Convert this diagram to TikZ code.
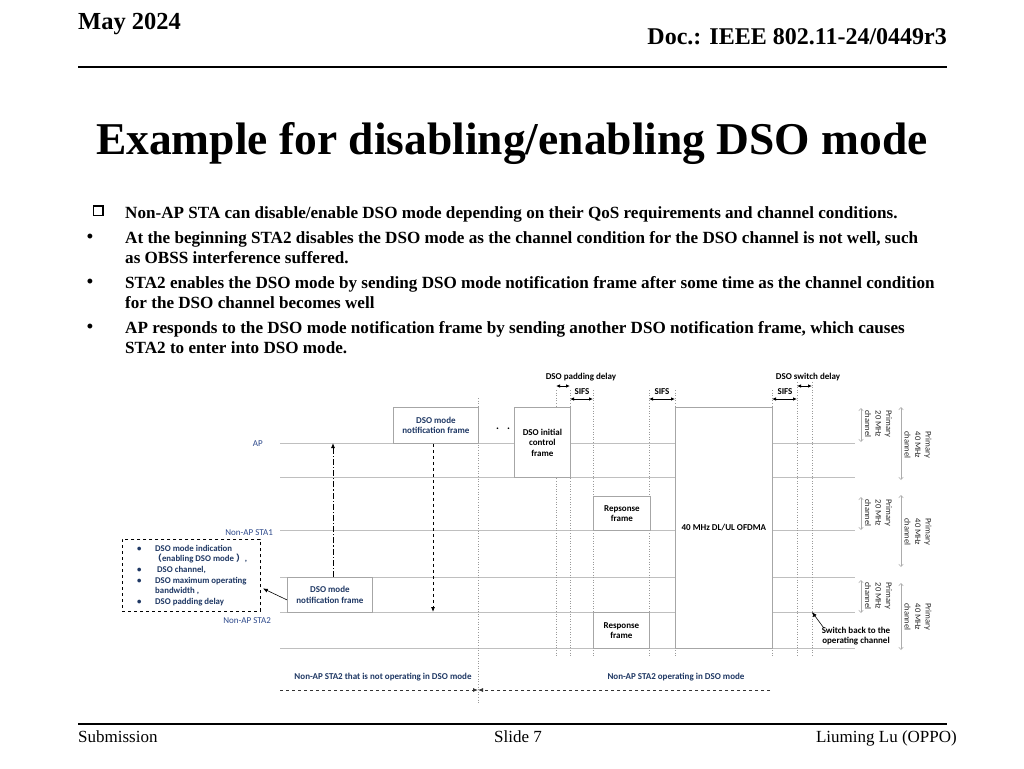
\documentclass[tikz,border=0pt]{standalone}
\usepackage{fontspec}
\setmainfont{Liberation Serif}
\newfontfamily\calfont{Carlito}
\newfontfamily\cjkfont{Noto Sans CJK SC}
\usetikzlibrary{arrows.meta}
\definecolor{navy}{HTML}{1F3864}
\definecolor{lblue}{HTML}{2E4A8C}
\definecolor{boxgray}{HTML}{A6A6A6}
\definecolor{linegray}{HTML}{BFBFBF}
\definecolor{dotgray}{HTML}{9A9A9A}
\begin{document}
\begin{tikzpicture}[x=1pt,y=-1pt,
  frame/.style={draw=boxgray, fill=white, line width=0.8pt, align=center,
    font=\calfont\bfseries\fontsize{9}{10.5}\selectfont, inner sep=0pt, anchor=north west},
  lane/.style={draw=linegray, line width=0.8pt},
  vdot/.style={draw=dotgray, line width=0.6pt, dotted},
  dim/.style={{Latex[length=4pt,width=3.5pt]}-{Latex[length=4pt,width=3.5pt]}, line width=0.9pt},
  lbl/.style={font=\calfont\bfseries\fontsize{9}{10.5}\selectfont, inner sep=0pt},
  sta/.style={font=\calfont\fontsize{9}{11}\selectfont, text=lblue, inner sep=0pt},
  chan/.style={font=\calfont\fontsize{8.5}{10.5}\selectfont, rotate=-90, align=center, inner sep=0pt, text=black!85},
  chanarr/.style={draw=gray!65, line width=0.5pt, {Straight Barb[length=2.5pt,width=4.5pt]}-{Straight Barb[length=2.5pt,width=4.5pt]}},
  msg/.style={line width=0.8pt, -{Latex[length=5pt,width=4pt]}},
  body/.style={font=\bfseries\fontsize{17.1}{20}\selectfont, anchor=base west, inner sep=0pt},
  dotb/.style={font=\bfseries\fontsize{18}{20}\selectfont, anchor=base, inner sep=0pt},
]
\useasboundingbox (0,0) rectangle (1024,768);
\fill[white] (0,0) rectangle (1024,768);

% header
\node[font=\bfseries\fontsize{24.5}{28}\selectfont, anchor=base west, inner sep=0pt] (date) at (78,30) {May 2024};
\node[font=\bfseries\fontsize{24}{28}\selectfont, anchor=base east, inner sep=0pt] (doc) at (947,45) {Doc.: IEEE 802.11-24/0449r3};
\draw[line width=1.5pt] (78,67) -- (947,67);

% title
\node[font=\bfseries\fontsize{45.5}{50}\selectfont, anchor=base, inner sep=0pt] (title) at (512,154) {Example for disabling/enabling DSO mode};

% bullets
\draw[line width=1.6pt] (93.5,206) rectangle (103,215.5);
\node[body] (b1) at (125,218) {Non-AP STA can disable/enable DSO mode depending on their QoS requirements and channel conditions.};
\node[dotb] (d2) at (90,242) {\textbullet};
\node[body] (b2) at (125,243) {At the beginning STA2 disables the DSO mode as the channel condition for the DSO channel is not well, such};
\node[body] (b2b) at (125,263) {as OBSS interference suffered.};
\node[dotb] (d3) at (90,287) {\textbullet};
\node[body] (b3) at (125,288) {STA2 enables the DSO mode by sending DSO mode notification frame after some time as the channel condition};
\node[body] (b3b) at (125,308) {for the DSO channel becomes well};
\node[dotb] (d4) at (90,332) {\textbullet};
\node[body] (b4) at (125,333) {AP responds to the DSO mode notification frame by sending another DSO notification frame, which causes};
\node[body] (b4b) at (125,353) {STA2 to enter into DSO mode.};

% lanes
\foreach \yy in {443,477,530,577,612,648} \draw[lane] (280,\yy) -- (855,\yy);

% vertical dotted guides
\draw[vdot] (478,398) -- (478,703);
\foreach \xx in {556,570,593,649,675,772} \draw[vdot] (\xx,390) -- (\xx,657);
\foreach \xx in {797,812} \draw[vdot] (\xx,382) -- (\xx,657);

% frames
\node[frame, text=navy, minimum width=85pt, minimum height=36pt] (apnf) at (393,407) {DSO mode\\notification frame};
\node[frame, minimum width=56pt, minimum height=70pt] (dic) at (514,407) {DSO initial\\control\\frame};
\node[frame, minimum width=57pt, minimum height=34pt] (resp1) at (593,496) {Repsonse\\frame};
\node[frame, text=navy, minimum width=85pt, minimum height=35pt] (stanf) at (287,577) {DSO mode\\notification frame};
\node[frame, minimum width=56pt, minimum height=36pt] (resp2) at (593,612) {Response\\frame};
\node[frame, minimum width=97pt, minimum height=241pt] (ofdma) at (675,407) {40 MHz DL/UL OFDMA};

\node[lbl, anchor=base, font=\calfont\bfseries\fontsize{11}{12}\selectfont] (dots) at (503,429) {.\hspace{8pt}.};

% station labels
\node[sta, anchor=east] (apl) at (263,444) {AP};
\node[sta, anchor=east] (sta1) at (273,533) {Non-AP STA1};
\node[sta, anchor=east] (sta2) at (271,621) {Non-AP STA2};

% messages
\coordinate (upx) at (333,443);
\coordinate (dnx) at (433,612);
\draw[msg, dash pattern=on 6pt off 2pt on 1.2pt off 2pt] (stanf.north -| upx) -- (upx);
\draw[msg, dashed] (apnf.south -| dnx) -- (dnx);

% info box
\node[draw, dashed, line width=0.8pt, minimum width=138pt, minimum height=72pt, anchor=north west, inner sep=0pt] (info) at (122,539) {};
\node[font=\calfont\bfseries\fontsize{8.8}{10.6}\selectfont, text=navy, align=left, anchor=west, inner sep=0pt] (infotext) at (135,575.5)
 {\makebox[20pt][l]{\hspace{2pt}\textbullet}DSO mode indication\\
  \hspace*{18pt}{\cjkfont （}enabling DSO mode {\cjkfont ）},\\
  \makebox[20pt][l]{\hspace{2pt}\textbullet}\hspace{2pt}DSO channel,\\
  \makebox[20pt][l]{\hspace{2pt}\textbullet}DSO maximum operating\\
  \hspace*{20pt}bandwidth ,\\
  \makebox[20pt][l]{\hspace{2pt}\textbullet}DSO padding delay};
\draw[line width=0.6pt, -{Latex[length=5pt,width=4pt]}] ([yshift=-5pt]stanf.west) -- ([xshift=2pt,yshift=-13pt]info.east);

% timing dimensions
\node[lbl] (pdl) at (581,377) {DSO padding delay};
\draw[dim] (556,386) -- (570,386);
\node[lbl] (s1) at (582,392) {SIFS};
\draw[dim] (570,399) -- (593,399);
\node[lbl] (s2) at (662,392) {SIFS};
\draw[dim] (649,399) -- (675,399);
\node[lbl] (s3) at (785,392) {SIFS};
\draw[dim] (772,399) -- (797,399);
\node[lbl] (sdl) at (808,377) {DSO switch delay};
\draw[dim] (797,386) -- (812,386);

% switch back
\node[lbl, align=center] (sw) at (856,636) {Switch back to the\\operating channel};
\coordinate (swpt) at (812,612);
\draw[line width=0.6pt, -{Latex[length=5pt,width=4pt]}] ([xshift=2pt,yshift=-1pt]sw.north west) -- (swpt);

% channel brackets
\draw[chanarr] (861,408) -- (861,442);
\node[chan] (c20a) at (878.5,424) {Primary\\20 MHz\\channel};
\draw[chanarr] (901,407) -- (901,480);
\node[chan] (c40a) at (918,445) {Primary\\40 MHz\\channel};
\draw[chanarr] (861,497) -- (861,530);
\node[chan] (c20b) at (878.5,513) {Primary\\20 MHz\\channel};
\draw[chanarr] (901,495) -- (901,567);
\node[chan] (c40b) at (918,532) {Primary\\40 MHz\\channel};
\draw[chanarr] (861,580) -- (861,613);
\node[chan] (c20c) at (878.5,596) {Primary\\20 MHz\\channel};
\draw[chanarr] (901,583) -- (901,650);
\node[chan] (c40c) at (918,617) {Primary\\40 MHz\\channel};

% bottom mode spans
\node[lbl, text=navy] (notdso) at (383,677) {Non-AP STA2 that is not operating in DSO mode};
\node[lbl, text=navy] (indso) at (676,677) {Non-AP STA2 operating in DSO mode};
\coordinate (mid) at (478,690);
\coordinate (bl) at (280,690);
\coordinate (br) at (770,690);
\draw[dashed, draw=black!80, line width=0.8pt, -{Latex[length=5pt,width=4pt]}] (bl) -- (mid);
\draw[dashed, draw=black!80, line width=0.8pt, -{Latex[length=5pt,width=4pt]}] (br) -- (mid);

% footer
\draw[line width=1.5pt] (78,724) -- (947,724);
\node[font=\fontsize{17}{20}\selectfont, anchor=base west, inner sep=0pt] (sub) at (78,742) {Submission};
\node[font=\fontsize{17}{20}\selectfont, anchor=base, inner sep=0pt] (slide) at (518,742) {Slide 7};
\node[font=\fontsize{17}{20}\selectfont, anchor=base east, inner sep=0pt] (auth) at (957,742) {Liuming Lu (OPPO)};
\end{tikzpicture}
\end{document}
